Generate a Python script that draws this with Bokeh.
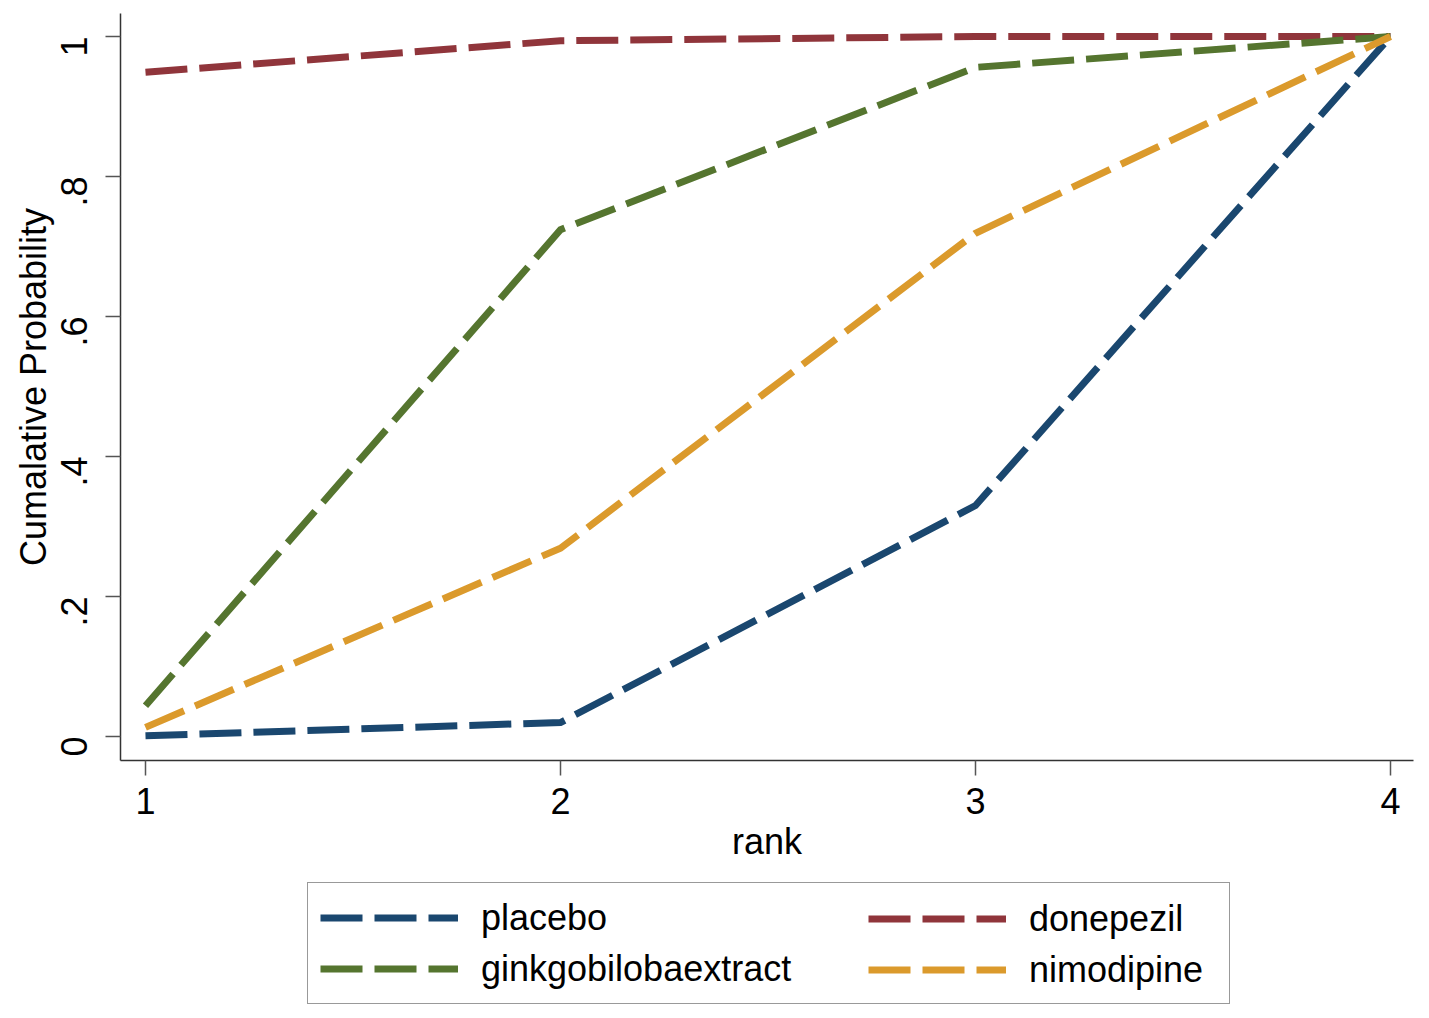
import math
from bokeh.plotting import figure
from bokeh.layouts import column
from bokeh.models import Legend, LegendItem, FixedTicker, Range1d
from bokeh.embed import file_html
from bokeh.resources import INLINE

# ---- data ----
ranks = [1, 2, 3, 4]
placebo = [0.001, 0.020, 0.330, 1.000]
donepezil = [0.949, 0.994, 1.000, 1.000]
ginkgobilobaextract = [0.044, 0.724, 0.956, 1.000]
nimodipine = [0.013, 0.269, 0.719, 1.000]
series_names = ["placebo", "donepezil", "ginkgobilobaextract", "nimodipine"]
legend_col1 = ["placebo", "ginkgobilobaextract"]
legend_col2 = ["donepezil", "nimodipine"]
x_ticks = [1, 2, 3, 4]
y_ticks = [0, 0.2, 0.4, 0.6, 0.8, 1.0]
y_tick_labels = ["0", ".2", ".4", ".6", ".8", "1"]

colors = {"placebo": "#1a476f", "donepezil": "#90353b",
          "ginkgobilobaextract": "#55752f", "nimodipine": "#db9a2c"}
values = {"placebo": placebo, "donepezil": donepezil,
          "ginkgobilobaextract": ginkgobilobaextract, "nimodipine": nimodipine}

FONT = "Liberation Sans"
DASH = "42 12"

p = figure(frame_width=1293, frame_height=747, output_backend="svg", toolbar_location=None,
           x_range=Range1d(0.9398, 4.0554), y_range=Range1d(-0.0343, 1.0329),
           min_border_left=120, min_border_right=8, min_border_top=13,
           min_border_bottom=115)
p.outline_line_color = None
p.xgrid.visible = False
p.ygrid.visible = False
p.background_fill_color = "white"
p.border_fill_color = "white"

for ax in (p.xaxis[0], p.yaxis[0]):
    ax.axis_line_color = "#333333"
    ax.axis_line_width = 1.5
    ax.major_tick_line_color = "#555555"
    ax.major_tick_line_width = 1.5
    ax.major_tick_out = 15
    ax.major_tick_in = 0
    ax.minor_tick_line_color = None
    ax.major_label_text_font = FONT
    ax.major_label_text_font_size = "36px"
    ax.major_label_text_color = "black"
    ax.axis_label_text_font = FONT
    ax.axis_label_text_font_size = "36px"
    ax.axis_label_text_font_style = "normal"
    ax.axis_label_text_color = "black"

p.xaxis.major_label_standoff = 12
p.xaxis.axis_label_standoff = 4
p.yaxis.major_label_standoff = 31
p.yaxis.axis_label_standoff = -8

p.xaxis.ticker = FixedTicker(ticks=x_ticks)
p.yaxis.ticker = FixedTicker(ticks=y_ticks)
p.yaxis.major_label_overrides = {t: l for t, l in zip(y_ticks, y_tick_labels)}
p.yaxis.major_label_orientation = math.pi / 2
p.xaxis.axis_label = "rank"
p.yaxis.axis_label = "Cumalative Probability"

for name in series_names:
    p.line(ranks, values[name], line_color=colors[name], line_width=7,
           line_dash=DASH, line_cap="butt", line_join="miter")

# legend strip below the chart
lg = figure(width=1421, height=135, output_backend="svg", toolbar_location=None,
            x_axis_type=None, y_axis_type=None,
            x_range=Range1d(0, 1), y_range=Range1d(0, 1),
            min_border_left=0, min_border_right=0, min_border_top=0,
            min_border_bottom=0)
lg.outline_line_color = None
lg.background_fill_color = "white"
lg.border_fill_color = "white"

key_renderers = {}
for name in series_names:
    key_renderers[name] = lg.line(ranks, values[name], line_color=colors[name], line_width=7,
                                  line_dash=DASH, line_cap="butt", visible=False)

common = dict(glyph_width=138, glyph_height=45, label_height=45,
              label_standoff=23, spacing=6, padding=12, margin=0,
              label_text_font=FONT, label_text_font_size="36px",
              label_text_color="black", inactive_fill_alpha=0.0)

legend_a = Legend(items=[LegendItem(label=n, renderers=[key_renderers[n]]) for n in legend_col1],
                  location=(187, 6), label_width=736,
                  border_line_color="#333333", border_line_width=1.5,
                  background_fill_color="white", background_fill_alpha=1.0, **common)
legend_b = Legend(items=[LegendItem(label=n, renderers=[key_renderers[n]]) for n in legend_col2],
                  location=(748, 18), border_line_color=None,
                  background_fill_alpha=0.0, **common)
lg.add_layout(legend_a, "center")
lg.add_layout(legend_b, "center")

layout = column(p, lg, spacing=0)
open("out.html", "w").write(file_html(layout, INLINE))
